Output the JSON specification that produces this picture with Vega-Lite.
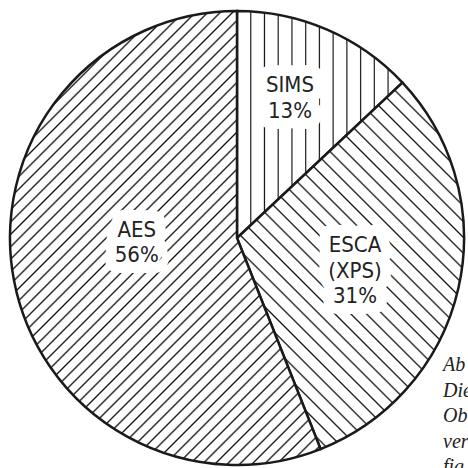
{
  "$schema": "https://vega.github.io/schema/vega-lite/v6.json",
  "width": 454,
  "height": 454,
  "autosize": {"type": "none"},
  "padding": {"left": 10, "top": 11, "right": 4, "bottom": 3},
  "background": "white",
  "config": {"view": {"stroke": null}},
  "title": {
    "text": ["Ab", "Die", "Ob", "ver", "fig"],
    "orient": "top",
    "anchor": "end",
    "frame": "group",
    "align": "left",
    "baseline": "alphabetic",
    "dx": -21,
    "dy": 487,
    "offset": 0,
    "font": "Liberation Serif",
    "fontStyle": "italic",
    "fontWeight": "normal",
    "fontSize": 20,
    "lineHeight": 25.5,
    "color": "#222"
  },
  "data": {
    "values": [
      {"method": "SIMS", "share": 13, "ord": 1, "label": "SIMS\n13%"},
      {"method": "ESCA", "share": 31, "ord": 2, "label": "ESCA\n(XPS)\n31%"},
      {"method": "AES", "share": 56, "ord": 3, "label": "AES\n56%"}
    ]
  },
  "encoding": {
    "theta": {"field": "share", "type": "quantitative", "stack": true},
    "order": {"field": "ord", "type": "quantitative"}
  },
  "layer": [
    {
      "mark": {"type": "arc", "radius": 227, "stroke": "#1a1a1a", "strokeWidth": 2.5},
      "encoding": {
        "fill": {
          "condition": [
            {
              "test": "datum.method === 'SIMS'",
              "value": {
                "gradient": "linear", "x1": 0, "y1": 0, "x2": 1, "y2": 0,
                "stops": [
                  {"offset": 0.076, "color": "#fff"}, {"offset": 0.083, "color": "#111"}, {"offset": 0.09, "color": "#fff"},
                  {"offset": 0.159, "color": "#fff"}, {"offset": 0.166, "color": "#111"}, {"offset": 0.173, "color": "#fff"},
                  {"offset": 0.242, "color": "#fff"}, {"offset": 0.249, "color": "#111"}, {"offset": 0.256, "color": "#fff"},
                  {"offset": 0.325, "color": "#fff"}, {"offset": 0.332, "color": "#111"}, {"offset": 0.339, "color": "#fff"},
                  {"offset": 0.408, "color": "#fff"}, {"offset": 0.415, "color": "#111"}, {"offset": 0.422, "color": "#fff"},
                  {"offset": 0.491, "color": "#fff"}, {"offset": 0.498, "color": "#111"}, {"offset": 0.505, "color": "#fff"},
                  {"offset": 0.574, "color": "#fff"}, {"offset": 0.581, "color": "#111"}, {"offset": 0.588, "color": "#fff"},
                  {"offset": 0.657, "color": "#fff"}, {"offset": 0.664, "color": "#111"}, {"offset": 0.671, "color": "#fff"},
                  {"offset": 0.74, "color": "#fff"}, {"offset": 0.747, "color": "#111"}, {"offset": 0.754, "color": "#fff"},
                  {"offset": 0.823, "color": "#fff"}, {"offset": 0.83, "color": "#111"}, {"offset": 0.837, "color": "#fff"},
                  {"offset": 0.906, "color": "#fff"}, {"offset": 0.913, "color": "#111"}, {"offset": 0.92, "color": "#fff"}
                ]
              }
            },
            {
              "test": "datum.method === 'ESCA'",
              "value": {
                "gradient": "linear", "x1": -0.347, "y1": 0.561, "x2": 0.202, "y2": -0.327,
                "stops": [
                  {"offset": 0.016, "color": "#fff"}, {"offset": 0.02, "color": "#111"}, {"offset": 0.024, "color": "#fff"},
                  {"offset": 0.051, "color": "#fff"}, {"offset": 0.055, "color": "#111"}, {"offset": 0.059, "color": "#fff"},
                  {"offset": 0.086, "color": "#fff"}, {"offset": 0.09, "color": "#111"}, {"offset": 0.094, "color": "#fff"},
                  {"offset": 0.121, "color": "#fff"}, {"offset": 0.125, "color": "#111"}, {"offset": 0.129, "color": "#fff"},
                  {"offset": 0.156, "color": "#fff"}, {"offset": 0.16, "color": "#111"}, {"offset": 0.164, "color": "#fff"},
                  {"offset": 0.191, "color": "#fff"}, {"offset": 0.195, "color": "#111"}, {"offset": 0.199, "color": "#fff"},
                  {"offset": 0.226, "color": "#fff"}, {"offset": 0.23, "color": "#111"}, {"offset": 0.234, "color": "#fff"},
                  {"offset": 0.261, "color": "#fff"}, {"offset": 0.265, "color": "#111"}, {"offset": 0.269, "color": "#fff"},
                  {"offset": 0.296, "color": "#fff"}, {"offset": 0.3, "color": "#111"}, {"offset": 0.304, "color": "#fff"},
                  {"offset": 0.331, "color": "#fff"}, {"offset": 0.335, "color": "#111"}, {"offset": 0.339, "color": "#fff"},
                  {"offset": 0.366, "color": "#fff"}, {"offset": 0.37, "color": "#111"}, {"offset": 0.374, "color": "#fff"},
                  {"offset": 0.401, "color": "#fff"}, {"offset": 0.405, "color": "#111"}, {"offset": 0.409, "color": "#fff"},
                  {"offset": 0.436, "color": "#fff"}, {"offset": 0.44, "color": "#111"}, {"offset": 0.444, "color": "#fff"},
                  {"offset": 0.471, "color": "#fff"}, {"offset": 0.475, "color": "#111"}, {"offset": 0.479, "color": "#fff"},
                  {"offset": 0.506, "color": "#fff"}, {"offset": 0.51, "color": "#111"}, {"offset": 0.514, "color": "#fff"},
                  {"offset": 0.541, "color": "#fff"}, {"offset": 0.545, "color": "#111"}, {"offset": 0.549, "color": "#fff"},
                  {"offset": 0.576, "color": "#fff"}, {"offset": 0.58, "color": "#111"}, {"offset": 0.584, "color": "#fff"},
                  {"offset": 0.611, "color": "#fff"}, {"offset": 0.615, "color": "#111"}, {"offset": 0.619, "color": "#fff"},
                  {"offset": 0.646, "color": "#fff"}, {"offset": 0.65, "color": "#111"}, {"offset": 0.654, "color": "#fff"},
                  {"offset": 0.681, "color": "#fff"}, {"offset": 0.685, "color": "#111"}, {"offset": 0.689, "color": "#fff"},
                  {"offset": 0.716, "color": "#fff"}, {"offset": 0.72, "color": "#111"}, {"offset": 0.724, "color": "#fff"},
                  {"offset": 0.751, "color": "#fff"}, {"offset": 0.755, "color": "#111"}, {"offset": 0.759, "color": "#fff"},
                  {"offset": 0.786, "color": "#fff"}, {"offset": 0.79, "color": "#111"}, {"offset": 0.794, "color": "#fff"},
                  {"offset": 0.821, "color": "#fff"}, {"offset": 0.825, "color": "#111"}, {"offset": 0.829, "color": "#fff"},
                  {"offset": 0.856, "color": "#fff"}, {"offset": 0.86, "color": "#111"}, {"offset": 0.864, "color": "#fff"},
                  {"offset": 0.891, "color": "#fff"}, {"offset": 0.895, "color": "#111"}, {"offset": 0.899, "color": "#fff"},
                  {"offset": 0.926, "color": "#fff"}, {"offset": 0.93, "color": "#111"}, {"offset": 0.934, "color": "#fff"},
                  {"offset": 0.961, "color": "#fff"}, {"offset": 0.965, "color": "#111"}, {"offset": 0.969, "color": "#fff"}
                ]
              }
            }
          ],
          "value": {
            "gradient": "linear", "x1": 0.1345, "y1": 0.1966, "x2": 0.7707, "y2": 1.1268,
            "stops": [
              {"offset": 0.007, "color": "#fff"}, {"offset": 0.01, "color": "#111"}, {"offset": 0.013, "color": "#fff"},
              {"offset": 0.027, "color": "#fff"}, {"offset": 0.03, "color": "#111"}, {"offset": 0.033, "color": "#fff"},
              {"offset": 0.047, "color": "#fff"}, {"offset": 0.05, "color": "#111"}, {"offset": 0.053, "color": "#fff"},
              {"offset": 0.067, "color": "#fff"}, {"offset": 0.07, "color": "#111"}, {"offset": 0.073, "color": "#fff"},
              {"offset": 0.087, "color": "#fff"}, {"offset": 0.09, "color": "#111"}, {"offset": 0.093, "color": "#fff"},
              {"offset": 0.107, "color": "#fff"}, {"offset": 0.11, "color": "#111"}, {"offset": 0.113, "color": "#fff"},
              {"offset": 0.127, "color": "#fff"}, {"offset": 0.13, "color": "#111"}, {"offset": 0.133, "color": "#fff"},
              {"offset": 0.147, "color": "#fff"}, {"offset": 0.15, "color": "#111"}, {"offset": 0.153, "color": "#fff"},
              {"offset": 0.167, "color": "#fff"}, {"offset": 0.17, "color": "#111"}, {"offset": 0.173, "color": "#fff"},
              {"offset": 0.187, "color": "#fff"}, {"offset": 0.19, "color": "#111"}, {"offset": 0.193, "color": "#fff"},
              {"offset": 0.207, "color": "#fff"}, {"offset": 0.21, "color": "#111"}, {"offset": 0.213, "color": "#fff"},
              {"offset": 0.227, "color": "#fff"}, {"offset": 0.23, "color": "#111"}, {"offset": 0.233, "color": "#fff"},
              {"offset": 0.247, "color": "#fff"}, {"offset": 0.25, "color": "#111"}, {"offset": 0.253, "color": "#fff"},
              {"offset": 0.267, "color": "#fff"}, {"offset": 0.27, "color": "#111"}, {"offset": 0.273, "color": "#fff"},
              {"offset": 0.287, "color": "#fff"}, {"offset": 0.29, "color": "#111"}, {"offset": 0.293, "color": "#fff"},
              {"offset": 0.307, "color": "#fff"}, {"offset": 0.31, "color": "#111"}, {"offset": 0.313, "color": "#fff"},
              {"offset": 0.327, "color": "#fff"}, {"offset": 0.33, "color": "#111"}, {"offset": 0.333, "color": "#fff"},
              {"offset": 0.347, "color": "#fff"}, {"offset": 0.35, "color": "#111"}, {"offset": 0.353, "color": "#fff"},
              {"offset": 0.367, "color": "#fff"}, {"offset": 0.37, "color": "#111"}, {"offset": 0.373, "color": "#fff"},
              {"offset": 0.387, "color": "#fff"}, {"offset": 0.39, "color": "#111"}, {"offset": 0.393, "color": "#fff"},
              {"offset": 0.407, "color": "#fff"}, {"offset": 0.41, "color": "#111"}, {"offset": 0.413, "color": "#fff"},
              {"offset": 0.427, "color": "#fff"}, {"offset": 0.43, "color": "#111"}, {"offset": 0.433, "color": "#fff"},
              {"offset": 0.447, "color": "#fff"}, {"offset": 0.45, "color": "#111"}, {"offset": 0.453, "color": "#fff"},
              {"offset": 0.467, "color": "#fff"}, {"offset": 0.47, "color": "#111"}, {"offset": 0.473, "color": "#fff"},
              {"offset": 0.487, "color": "#fff"}, {"offset": 0.49, "color": "#111"}, {"offset": 0.493, "color": "#fff"},
              {"offset": 0.507, "color": "#fff"}, {"offset": 0.51, "color": "#111"}, {"offset": 0.513, "color": "#fff"},
              {"offset": 0.527, "color": "#fff"}, {"offset": 0.53, "color": "#111"}, {"offset": 0.533, "color": "#fff"},
              {"offset": 0.547, "color": "#fff"}, {"offset": 0.55, "color": "#111"}, {"offset": 0.553, "color": "#fff"},
              {"offset": 0.567, "color": "#fff"}, {"offset": 0.57, "color": "#111"}, {"offset": 0.573, "color": "#fff"},
              {"offset": 0.587, "color": "#fff"}, {"offset": 0.59, "color": "#111"}, {"offset": 0.593, "color": "#fff"},
              {"offset": 0.607, "color": "#fff"}, {"offset": 0.61, "color": "#111"}, {"offset": 0.613, "color": "#fff"},
              {"offset": 0.627, "color": "#fff"}, {"offset": 0.63, "color": "#111"}, {"offset": 0.633, "color": "#fff"},
              {"offset": 0.647, "color": "#fff"}, {"offset": 0.65, "color": "#111"}, {"offset": 0.653, "color": "#fff"},
              {"offset": 0.667, "color": "#fff"}, {"offset": 0.67, "color": "#111"}, {"offset": 0.673, "color": "#fff"},
              {"offset": 0.687, "color": "#fff"}, {"offset": 0.69, "color": "#111"}, {"offset": 0.693, "color": "#fff"},
              {"offset": 0.707, "color": "#fff"}, {"offset": 0.71, "color": "#111"}, {"offset": 0.713, "color": "#fff"},
              {"offset": 0.727, "color": "#fff"}, {"offset": 0.73, "color": "#111"}, {"offset": 0.733, "color": "#fff"},
              {"offset": 0.747, "color": "#fff"}, {"offset": 0.75, "color": "#111"}, {"offset": 0.753, "color": "#fff"},
              {"offset": 0.767, "color": "#fff"}, {"offset": 0.77, "color": "#111"}, {"offset": 0.773, "color": "#fff"},
              {"offset": 0.787, "color": "#fff"}, {"offset": 0.79, "color": "#111"}, {"offset": 0.793, "color": "#fff"},
              {"offset": 0.807, "color": "#fff"}, {"offset": 0.81, "color": "#111"}, {"offset": 0.813, "color": "#fff"},
              {"offset": 0.827, "color": "#fff"}, {"offset": 0.83, "color": "#111"}, {"offset": 0.833, "color": "#fff"},
              {"offset": 0.847, "color": "#fff"}, {"offset": 0.85, "color": "#111"}, {"offset": 0.853, "color": "#fff"},
              {"offset": 0.867, "color": "#fff"}, {"offset": 0.87, "color": "#111"}, {"offset": 0.873, "color": "#fff"},
              {"offset": 0.887, "color": "#fff"}, {"offset": 0.89, "color": "#111"}, {"offset": 0.893, "color": "#fff"},
              {"offset": 0.907, "color": "#fff"}, {"offset": 0.91, "color": "#111"}, {"offset": 0.913, "color": "#fff"},
              {"offset": 0.927, "color": "#fff"}, {"offset": 0.93, "color": "#111"}, {"offset": 0.933, "color": "#fff"},
              {"offset": 0.947, "color": "#fff"}, {"offset": 0.95, "color": "#111"}, {"offset": 0.953, "color": "#fff"},
              {"offset": 0.967, "color": "#fff"}, {"offset": 0.97, "color": "#111"}, {"offset": 0.973, "color": "#fff"},
              {"offset": 0.987, "color": "#fff"}, {"offset": 0.99, "color": "#111"}, {"offset": 0.993, "color": "#fff"}
            ]
          }
        }
      }
    },
    {
      "mark": {"type": "text", "radius": 151, "dx": -7, "dy": -14, "font": "Liberation Sans Narrow, DejaVu Sans Condensed, sans-serif", "fontSize": 22, "lineHeight": 25.5, "lineBreak": "\n", "align": "center", "baseline": "middle", "fill": "white", "stroke": "white", "strokeWidth": 22, "strokeJoin": "round"},
      "encoding": {"text": {"condition": {"test": "datum.method === 'SIMS'", "field": "label", "type": "nominal"}, "value": ""}}
    },
    {
      "mark": {"type": "text", "radius": 124, "dx": -3, "dy": -20, "font": "Liberation Sans Narrow, DejaVu Sans Condensed, sans-serif", "fontSize": 22, "lineHeight": 25.5, "lineBreak": "\n", "align": "center", "baseline": "middle", "fill": "white", "stroke": "white", "strokeWidth": 22, "strokeJoin": "round"},
      "encoding": {"text": {"condition": {"test": "datum.method === 'ESCA'", "field": "label", "type": "nominal"}, "value": ""}}
    },
    {
      "mark": {"type": "text", "radius": 100, "dx": -2, "dy": -27, "font": "Liberation Sans Narrow, DejaVu Sans Condensed, sans-serif", "fontSize": 22, "lineHeight": 25.5, "lineBreak": "\n", "align": "center", "baseline": "middle", "fill": "white", "stroke": "white", "strokeWidth": 22, "strokeJoin": "round"},
      "encoding": {"text": {"condition": {"test": "datum.method === 'AES'", "field": "label", "type": "nominal"}, "value": ""}}
    },
    {
      "mark": {"type": "text", "radius": 151, "dx": -7, "dy": -14, "font": "Liberation Sans Narrow, DejaVu Sans Condensed, sans-serif", "fontSize": 22, "lineHeight": 25.5, "lineBreak": "\n", "align": "center", "baseline": "middle", "fill": "#222"},
      "encoding": {"text": {"condition": {"test": "datum.method === 'SIMS'", "field": "label", "type": "nominal"}, "value": ""}}
    },
    {
      "mark": {"type": "text", "radius": 124, "dx": -3, "dy": -20, "font": "Liberation Sans Narrow, DejaVu Sans Condensed, sans-serif", "fontSize": 22, "lineHeight": 25.5, "lineBreak": "\n", "align": "center", "baseline": "middle", "fill": "#222"},
      "encoding": {"text": {"condition": {"test": "datum.method === 'ESCA'", "field": "label", "type": "nominal"}, "value": ""}}
    },
    {
      "mark": {"type": "text", "radius": 100, "dx": -2, "dy": -27, "font": "Liberation Sans Narrow, DejaVu Sans Condensed, sans-serif", "fontSize": 22, "lineHeight": 25.5, "lineBreak": "\n", "align": "center", "baseline": "middle", "fill": "#222"},
      "encoding": {"text": {"condition": {"test": "datum.method === 'AES'", "field": "label", "type": "nominal"}, "value": ""}}
    }
  ]
}
